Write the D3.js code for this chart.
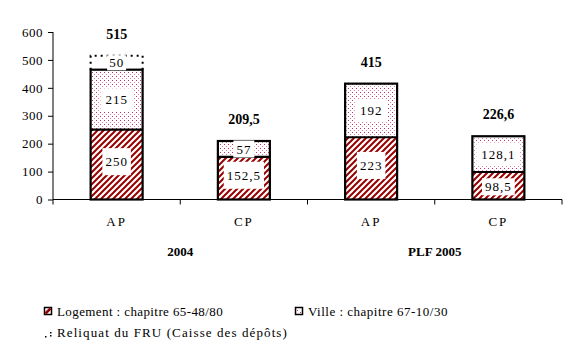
<!DOCTYPE html>
<html><head><meta charset="utf-8">
<script src="https://cdn.jsdelivr.net/npm/d3@7"></script>
<style>body{margin:0;background:#fff}svg{display:block}</style>
</head><body><svg id="c" width="579" height="355"></svg>
<script>
const categories = ["AP","CP","AP","CP"];
const groups = ["2004","PLF 2005"];
const logement = [250,152.5,223,98.5];
const ville = [215,57,192,128.1];
const reliquat = [50,0,0,0];
const logementLabels = ["250","152,5","223","98,5"];
const villeLabels = ["215","57","192","128,1"];
const reliquatLabels = ["50","","",""];
const totalLabels = ["515","209,5","415","226,6"];
const yTicks = [0,100,200,300,400,500,600];
const legendLabels = ["Logement : chapitre 65-48/80","Ville : chapitre 67-10/30","Reliquat du FRU (Caisse des dépôts)"];

const FONT = "'Liberation Serif'";
const svg = d3.select("#c").style("font-family",FONT);
const RED = "#990000", PINK = "#c0306a";
const defs = svg.append("defs");
const hatch = defs.append("pattern").attr("id","hatch").attr("patternUnits","userSpaceOnUse").attr("width",6).attr("height",6);
hatch.append("rect").attr("width",6).attr("height",6).attr("fill","#fff");
hatch.append("path").attr("d","M-1,7 L7,-1 M-4,4 L4,-4 M2,10 L10,2").attr("stroke",RED).attr("stroke-width",2);
const dots = defs.append("pattern").attr("id","dots").attr("patternUnits","userSpaceOnUse").attr("width",4).attr("height",4);
dots.append("rect").attr("width",4).attr("height",4).attr("fill","#fff");
dots.append("rect").attr("x",0).attr("y",0).attr("width",1).attr("height",1).attr("fill",PINK);
dots.append("rect").attr("x",2).attr("y",2).attr("width",1).attr("height",1).attr("fill",PINK).attr("opacity",0.6);

const idx = d3.range(categories.length);
const x = d3.scaleBand().domain(idx).range([53,562]).padding(0);
const y = d3.scaleLinear().domain([0,600]).range([199.5,32]);
const bw = 52;
const cx = i => x(i) + x.bandwidth()/2;

// y axis
const yAxis = svg.append("g").attr("transform","translate(53,0)")
  .call(d3.axisLeft(y).tickValues(yTicks).tickSize(5).tickPadding(5).tickFormat(d3.format("d")));
yAxis.attr("font-family",null).attr("font-size",13);
yAxis.selectAll("path,line").attr("stroke","#000").attr("stroke-width",1);
yAxis.select(".domain").attr("d","M0,"+y(600)+"V"+y(0));
yAxis.selectAll("text").attr("letter-spacing",0.5);

// x axis
const gx = svg.append("g");
gx.append("line").attr("x1",53).attr("x2",562).attr("y1",y(0)).attr("y2",y(0)).attr("stroke","#000");
const bounds = idx.map(i=>x(i)).concat([x(idx.length-1)+x.bandwidth()]);
gx.selectAll("line.t").data(bounds).join("line").attr("class","t")
  .attr("x1",d=>d).attr("x2",d=>d).attr("y1",y(0)).attr("y2",y(0)+5).attr("stroke","#000");
gx.selectAll("text.cat").data(idx).join("text").attr("class","cat")
  .attr("x",cx).attr("y",226).attr("text-anchor","middle").attr("font-size",13).attr("letter-spacing",2)
  .text(i=>categories[i]);
svg.selectAll("text.grp").data(groups).join("text").attr("class","grp")
  .attr("x",(d,g)=> (x(2*g) + x(2*g+1)+x.bandwidth())/2).attr("y",256)
  .attr("text-anchor","middle").attr("font-size",13).attr("font-weight","bold").text(d=>d);

// bars
const bars = svg.append("g");
idx.forEach(i=>{
  const x0 = cx(i)-bw/2;
  const l = logement[i], v = ville[i], r = reliquat[i];
  bars.append("rect").attr("x",x0).attr("y",y(l)).attr("width",bw).attr("height",y(0)-y(l)).attr("fill","url(#hatch)");
  bars.append("rect").attr("x",x0).attr("y",y(l+v)).attr("width",bw).attr("height",y(l)-y(l+v)).attr("fill","url(#dots)");
  bars.append("rect").attr("x",x0).attr("y",y(l+v)).attr("width",bw).attr("height",y(0)-y(l+v))
    .attr("fill","none").attr("stroke","#000").attr("stroke-width",2.2);
  bars.append("line").attr("x1",x0).attr("x2",x0+bw).attr("y1",y(l)).attr("y2",y(l)).attr("stroke","#000").attr("stroke-width",2.2);
  if (r>0){
    bars.append("path").attr("d",`M${x0},${y(l+v)}V${y(l+v+r)}H${x0+bw}V${y(l+v)}`)
      .attr("fill","none").attr("stroke","#000").attr("stroke-width",2).attr("stroke-dasharray","2,4");
  }
});

function boxLabel(txt, xc, yc, padX, padY){
  if(!txt) return;
  const g = svg.append("g");
  const t = g.append("text").attr("x",xc).attr("y",yc).attr("dy","0.35em").attr("text-anchor","middle")
    .attr("font-size",13).attr("letter-spacing",1).style("font-family",FONT).text(txt);
  const b = t.node().getBBox();
  g.insert("rect","text").attr("x",b.x-padX).attr("y",b.y-padY).attr("width",b.width+2*padX).attr("height",b.height+2*padY).attr("fill","#fff");
}
idx.forEach(i=>{
  const l = logement[i], v = ville[i], r = reliquat[i];
  boxLabel(logementLabels[i], cx(i), (y(0)+y(l))/2 - (l<120?-1:3), 3, l>140?6:1);
  boxLabel(villeLabels[i], cx(i), (y(l)+y(l+v))/2, v>100?5:3, v>100?4:1);
  boxLabel(reliquatLabels[i], cx(i), (y(l+v)+y(l+v+r))/2, 2, 0);
  svg.append("text").attr("x",cx(i)).attr("y",y(l+v+r)-17).attr("text-anchor","middle")
    .attr("font-size",14).attr("font-weight","bold").text(totalLabels[i]);
});

// legend
const lg = svg.append("g");
lg.append("rect").attr("x",44.5).attr("y",307.5).attr("width",7).attr("height",7).attr("fill","#fff").attr("stroke","#000").attr("stroke-width",1.5);
lg.append("line").attr("x1",45.5).attr("y1",313.5).attr("x2",50.5).attr("y2",308.5).attr("stroke",RED).attr("stroke-width",2.5);
lg.append("text").attr("x",57).attr("y",316).attr("font-size",13).attr("letter-spacing",0.4).text(legendLabels[0]);
lg.append("rect").attr("x",295.5).attr("y",307.5).attr("width",7).attr("height",7).attr("fill","#fff").attr("stroke","#000").attr("stroke-width",1.5);
lg.append("rect").attr("x",297).attr("y",310).attr("width",1).attr("height",1).attr("fill",PINK);
lg.append("rect").attr("x",300).attr("y",312).attr("width",1).attr("height",1).attr("fill",PINK);
lg.append("text").attr("x",308).attr("y",316).attr("font-size",13).attr("letter-spacing",0.5).text(legendLabels[1]);
[[45,336],[50,332],[50,335]].forEach(p=>lg.append("rect").attr("x",p[0]).attr("y",p[1]).attr("width",1.5).attr("height",1.5).attr("fill","#000"));
lg.append("text").attr("x",57).attr("y",337).attr("font-size",13).attr("letter-spacing",1.1).text(legendLabels[2]);

svg.selectAll("text").style("font-family",FONT).attr("fill","#000");
</script></body></html>
